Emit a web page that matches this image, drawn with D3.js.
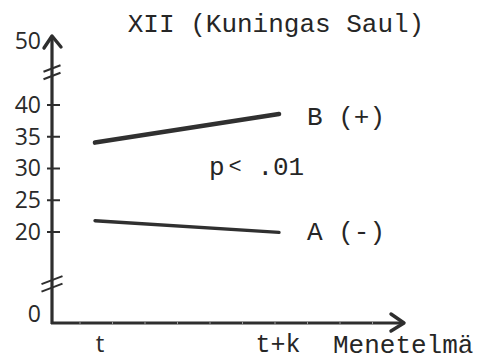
<!DOCTYPE html>
<html>
<head>
<meta charset="utf-8">
<script src="https://cdn.jsdelivr.net/npm/d3@7"></script>
<style>
  body { margin: 0; background: #fff; }
  .mono { font-family: "Liberation Mono", "DejaVu Sans Mono", monospace; fill: #262626; }
  .hand { font-family: "Open Sans", "DejaVu Sans", sans-serif; font-weight: 400; fill: #2a2a2a; }
</style>
</head>
<body>
<svg id="chart" width="481" height="360"></svg>
<script>
// Mean scores for the two groups at the two measurement points
const title = "XII (Kuningas Saul)";
const periods = ["t", "t+k"];
const groupB = [34.0, 38.5];
const groupA = [21.7, 19.8];
const seriesNames = ["B (+)", "A (-)"];
const yTickValues = [0, 20, 25, 30, 35, 40, 50];
const yTickMarks = [20, 25, 30, 35, 40];
const xTitle = "Menetelmä";
const significance = ["p", "<", " .01"];

const svg = d3.select("#chart");
const ink = "#2e2e2e";

const origin = { x: 52, y: 323 };
const axisEnd = { x: 404, y: 36 };

// Broken y axis: 0 at the origin, then a linear stretch from 20 to 50
const y = d3.scaleLinear().domain([0, 20, 50]).range([origin.y, 231.5, 41]);
const x = d3.scalePoint().domain(periods).range([95, 279]);

// Title
svg.append("text").attr("class", "mono")
  .attr("x", 276).attr("y", 32)
  .attr("text-anchor", "middle")
  .attr("font-size", 26)
  .text(title);

// Y axis labels and cross ticks
const yAxis = d3.axisLeft(y).tickValues(yTickValues).tickSize(0).tickPadding(11);
const gy = svg.append("g").attr("transform", `translate(${origin.x},0)`).call(yAxis);
gy.select(".domain").remove();
gy.selectAll(".tick text")
  .attr("class", "hand")
  .attr("font-size", 23)
  .attr("dy", d => d === 0 ? "-0.05em" : "0.34em");
gy.selectAll(".tick").filter(d => yTickMarks.includes(d))
  .append("line")
  .attr("x1", -5).attr("x2", 8)
  .attr("stroke", ink).attr("stroke-width", 2);

// Axis lines with arrowheads
svg.append("line")
  .attr("x1", origin.x).attr("y1", origin.y + 1)
  .attr("x2", origin.x).attr("y2", axisEnd.y)
  .attr("stroke", ink).attr("stroke-width", 3.2);
svg.append("path")
  .attr("d", `M${origin.x - 8},${axisEnd.y + 12} L${origin.x},${axisEnd.y} L${origin.x + 9},${axisEnd.y + 11}`)
  .attr("fill", "none").attr("stroke", ink).attr("stroke-width", 3.4)
  .attr("stroke-linecap", "round").attr("stroke-linejoin", "round");

svg.append("line")
  .attr("x1", origin.x - 1).attr("y1", origin.y)
  .attr("x2", axisEnd.x).attr("y2", origin.y)
  .attr("stroke", ink).attr("stroke-width", 3.2);
svg.append("path")
  .attr("d", `M${axisEnd.x - 13},${origin.y - 9} L${axisEnd.x},${origin.y} L${axisEnd.x - 13},${origin.y + 8}`)
  .attr("fill", "none").attr("stroke", ink).attr("stroke-width", 3.4)
  .attr("stroke-linecap", "round").attr("stroke-linejoin", "round");

// Faint ruler marks along the x axis
svg.append("g").selectAll("line")
  .data(d3.range(80, 390, 32.5))
  .join("line")
  .attr("x1", d => d).attr("x2", d => d)
  .attr("y1", origin.y - 1.5).attr("y2", origin.y + 1.5)
  .attr("stroke", "#9a9a9a").attr("stroke-width", 1);

// Axis break marks
function breakMark(cy, half) {
  [0, 7.5].forEach(off => {
    svg.append("line")
      .attr("x1", origin.x - half).attr("y1", cy + off + half * 0.38)
      .attr("x2", origin.x + half).attr("y2", cy + off - half * 0.38)
      .attr("stroke", ink).attr("stroke-width", 2);
  });
}
breakMark(y(45.2) - 3, 8.5);
breakMark(y(8.5) - 4, 10.5);

// Group lines
const line = d3.line().x((d, i) => x(periods[i])).y(d => y(d));
[groupB, groupA].forEach((vals, k) => {
  svg.append("path")
    .attr("d", line(vals))
    .attr("fill", "none")
    .attr("stroke", "#303030")
    .attr("stroke-width", k === 0 ? 4.6 : 3.4)
    .attr("stroke-linecap", "round");
  svg.append("text").attr("class", "mono")
    .attr("x", x(periods[1]) + 28)
    .attr("y", y(vals[1]))
    .attr("dy", k === 0 ? "0.42em" : "0.28em")
    .attr("font-size", 26)
    .text(seriesNames[k]);
});

// Significance note
const pText = svg.append("text").attr("class", "mono")
  .attr("x", 209).attr("y", 175).attr("font-size", 26);
pText.append("tspan").text(significance[0]);
pText.append("tspan").attr("font-size", 22).attr("dx", 4).attr("dy", -2).text(significance[1]);
pText.append("tspan").attr("dy", 2).text(significance[2]);

// X labels
svg.append("text").attr("class", "hand")
  .attr("x", x(periods[0]) + 5).attr("y", 352)
  .attr("text-anchor", "middle").attr("font-size", 24)
  .text(periods[0]);
svg.append("text").attr("class", "mono")
  .attr("x", x(periods[1]) - 1).attr("y", 352)
  .attr("text-anchor", "middle").attr("font-size", 25)
  .text(periods[1]);
svg.append("text").attr("class", "mono")
  .attr("x", 333).attr("y", 353).attr("font-size", 26)
  .text(xTitle);
</script>
</body>
</html>
